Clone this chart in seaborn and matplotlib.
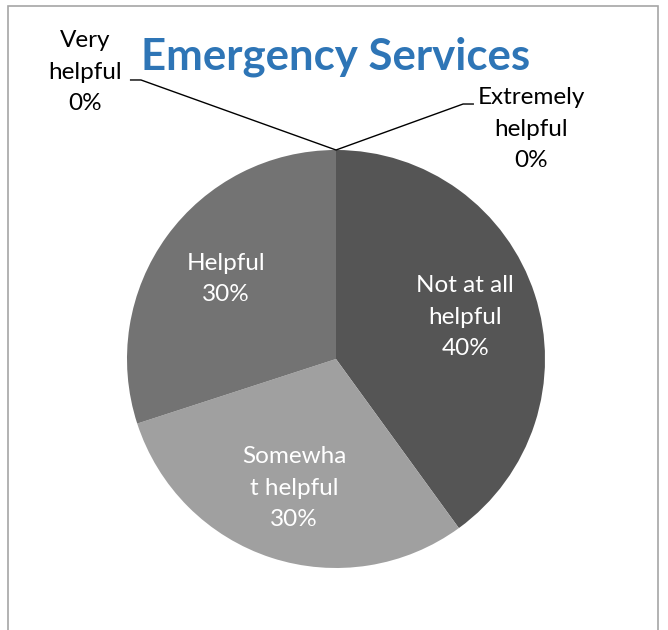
import numpy as np
import pandas as pd
import matplotlib
matplotlib.use("Agg")
import matplotlib.pyplot as plt
import seaborn as sns
from matplotlib.patches import Rectangle

# ---- data ----
categories = ["Not at all helpful", "Somewhat helpful", "Helpful", "Very helpful", "Extremely helpful"]
label_text = ["Not at all\nhelpful", "Somewha\nt helpful", "Helpful", "Very\nhelpful", "Extremely\nhelpful"]
percent = [40, 30, 30, 0, 0]
slice_colors = ["#555555", "#a0a0a0", "#737373", "#c0c0c0", "#d0d0d0"]
title = "Emergency Services"

df = pd.DataFrame({"category": categories, "label": label_text, "percent": percent})

sns.set_theme(style="white")
plt.rcParams["font.family"] = ["Lato", "DejaVu Sans"]

W, H, DPI = 668, 630, 100
fig = plt.figure(figsize=(W / DPI, H / DPI), dpi=DPI)
fig.patch.set_facecolor("white")

# outer chart frame
fig.patches.append(Rectangle((8 / W, -0.05), (658 - 8) / W, 1.05 - 6 / H,
                             transform=fig.transFigure, fill=False,
                             edgecolor="#a6a6a6", linewidth=1.2))

ax = fig.add_axes([0, 0, 1, 1])
wedges, _ = ax.pie(df["percent"], colors=slice_colors, startangle=90,
                   counterclock=False, radius=1.0,
                   wedgeprops=dict(linewidth=0))

R_PX = 209.0
cx, cy = 336.0, 359.0
ax.set_xlim(-cx / R_PX, (W - cx) / R_PX)
ax.set_ylim(-(H - cy) / R_PX, cy / R_PX)
ax.set_aspect("auto")
ax.axis("off")

FS = 17.5
LS = 1.62

# inside labels
for w, lab, p in zip(wedges, df["label"], df["percent"]):
    if p <= 0:
        continue
    ang = np.deg2rad((w.theta1 + w.theta2) / 2)
    r = 0.65
    ax.text(r * np.cos(ang), r * np.sin(ang), f"{lab}\n{p}%", ha="center", va="center",
            color="white", fontsize=FS, linespacing=LS)

# outside labels for zero slices with leader lines
for w, cat, lab, p in zip(wedges, df["category"], df["label"], df["percent"]):
    if p > 0:
        continue
    ang = np.deg2rad(w.theta1)
    x0, y0 = np.cos(ang), np.sin(ang)
    if cat == "Very helpful":
        tx, ty = -1.20, 1.373
        path_x = [x0, -0.933, -0.986]
        path_y = [y0, 1.335, 1.335]
    else:
        tx, ty = 0.933, 1.100
        path_x = [x0, 0.608, 0.660]
        path_y = [y0, 1.220, 1.220]
    ax.plot(path_x, path_y, color="black", linewidth=1.0, solid_capstyle="butt")
    ax.text(tx, ty, f"{lab}\n{p}%", ha="center", va="center", color="black",
            fontsize=FS, linespacing=LS)

fig.text(336 / W, 1 - 57 / H, title, ha="center", va="center", color="#2e75b6",
         fontsize=31.5, fontweight="bold")

fig.savefig("out.png", dpi=DPI, facecolor="white")
